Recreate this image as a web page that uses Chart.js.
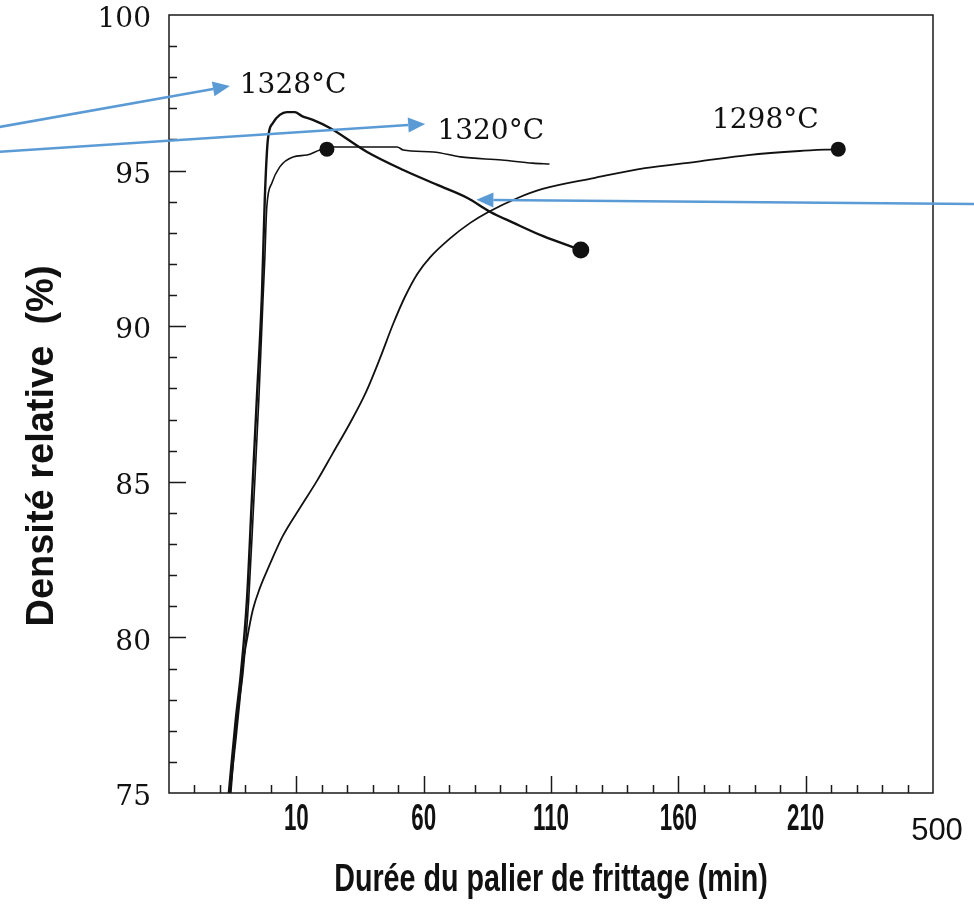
<!DOCTYPE html>
<html>
<head>
<meta charset="utf-8">
<script src="https://cdn.jsdelivr.net/npm/chart.js@4.4.1/dist/chart.umd.min.js"></script>
<style>
  html, body { margin: 0; padding: 0; background: #fff; }
</style>
</head>
<body>
<canvas id="chart" width="974" height="911"></canvas>
<script>
// Courbes (durée en min, densité en %)
const x1328 = [-16.5, -13.8, -11.8, -9.4, -7.5, -5.5, -3.5, -2.4, -1.2, 0.8, 3.5, 6.3, 9.4, 12.2, 16.5, 23.2, 37.8, 52.0, 65.4, 77.2, 86.2, 95.3, 106.7, 121.7];
const y1328 = [75, 77.35, 78.82, 81.2, 84.38, 87.69, 91.03, 94.06, 95.98, 96.53, 96.79, 96.88, 96.88, 96.75, 96.63, 96.37, 95.6, 95.02, 94.54, 94.12, 93.67, 93.32, 92.9, 92.45];
const dot1328 = 23;

const x1320 = [-15.7, -13.4, -11.0, -8.7, -6.7, -4.7, -3.1, -2.4, -1.6, 0.4, 3.5, 8.7, 14.2, 19.3, 22.0, 24.4, 49.6, 52.0, 63.8, 74.4, 90.6, 102.8, 109.4];
const y1320 = [75, 77.35, 78.82, 81.2, 84.38, 87.69, 90.84, 92.13, 93.83, 94.6, 95.12, 95.44, 95.5, 95.66, 95.69, 95.76, 95.76, 95.66, 95.6, 95.44, 95.34, 95.24, 95.21];
const dot1320 = 14;

const x1298 = [-16.1, -13.8, -12.2, -11.0, -9.4, -7.1, -4.3, -1.2, 4.7, 11.4, 18.1, 24.4, 31.1, 37.4, 42.9, 48.0, 52.8, 57.5, 62.6, 70.5, 78.3, 85.4, 96.9, 106.7, 126.8, 146.9, 166.9, 187.4, 207.5, 222.8];
const y1298 = [75, 76.7, 77.99, 79.11, 79.92, 80.88, 81.59, 82.2, 83.26, 84.16, 85.03, 85.93, 86.89, 87.89, 88.98, 90.07, 90.97, 91.68, 92.22, 92.83, 93.32, 93.67, 94.12, 94.41, 94.76, 95.08, 95.28, 95.5, 95.63, 95.69];
const dot1298 = 29;

// Axes
const yLabelled = [75, 80, 85, 90, 95, 100];
const xLabelled = [10, 60, 110, 160, 210];
const xEndLabel = '500';
const xTitle = 'Durée du palier de frittage (min)';
const yTitle = 'Densité relative  (%)';

// Annotations (en coordonnées des données)
const tempNames = ['1328°C', '1320°C', '1298°C'];
const tempAt = [[-12.2, 97.72], [65.4, 96.24], [173.2, 96.59]];
const arrowFrom = [[-106.7, 96.40], [-106.7, 95.60], [276.8, 93.93]];
const arrowTo = [[-16.1, 97.72], [60.6, 96.50], [80.7, 94.06]];

const INK = '#111';
const BLUE = '#5b9bd5';
const SANS = '"Liberation Sans", Arial, sans-serif';

function serie(xs, ys, dotIdx, width, r) {
    return {
        data: xs.map((x, i) => ({ x: x, y: ys[i] })),
        borderColor: INK,
        borderWidth: width,
        cubicInterpolationMode: 'monotone',
        pointRadius: xs.map((_, i) => i === dotIdx ? r : 0),
        pointBackgroundColor: INK,
        pointBorderWidth: 0,
        clip: false
    };
}

function drawArrow(ctx, x0, y0, x1, y1) {
    const ang = Math.atan2(y1 - y0, x1 - x0);
    const L = 17, W = 7.5;
    const bx = x1 - L * Math.cos(ang), by = y1 - L * Math.sin(ang);
    ctx.beginPath();
    ctx.moveTo(x0, y0);
    ctx.lineTo(bx, by);
    ctx.stroke();
    ctx.beginPath();
    ctx.moveTo(x1, y1);
    ctx.lineTo(bx - W * Math.sin(ang), by + W * Math.cos(ang));
    ctx.lineTo(bx + W * Math.sin(ang), by - W * Math.cos(ang));
    ctx.closePath();
    ctx.fill();
}

// texte étroit (la figure d'origine est étirée verticalement)
function narrowText(ctx, s, x, y, sx) {
    ctx.save();
    ctx.translate(x, y);
    ctx.scale(sx, 1);
    ctx.fillText(s, 0, 0);
    ctx.restore();
}

const decor = {
    id: 'decor',
    afterDraw(chart) {
        const { ctx, chartArea: a, scales: { x, y } } = chart;
        ctx.save();

        // cadre + graduations vers l'intérieur
        ctx.strokeStyle = '#1a1a1a';
        ctx.lineWidth = 1.5;
        ctx.strokeRect(a.left, a.top, a.right - a.left, a.bottom - a.top);
        ctx.beginPath();
        y.ticks.forEach(t => {
            if (t.value <= y.min || t.value >= y.max) return;
            const py = Math.round(y.getPixelForValue(t.value)) + 0.5;
            const len = t.value % 5 === 0 ? 17 : 8;
            ctx.moveTo(a.left, py);
            ctx.lineTo(a.left + len, py);
        });
        x.ticks.forEach(t => {
            if (t.value <= x.min || t.value >= x.max) return;
            const px = Math.round(x.getPixelForValue(t.value)) + 0.5;
            const len = (t.value - 10) % 50 === 0 ? 17 : 8;
            ctx.moveTo(px, a.bottom);
            ctx.lineTo(px, a.bottom - len);
        });
        ctx.stroke();

        // libellés de l'axe X
        ctx.fillStyle = INK;
        ctx.textAlign = 'center';
        ctx.textBaseline = 'middle';
        ctx.font = 'bold 36px ' + SANS;
        x.ticks.forEach(t => {
            if (xLabelled.includes(t.value)) {
                narrowText(ctx, String(t.value), x.getPixelForValue(t.value), a.bottom + 27, 0.62);
            }
        });
        ctx.font = '31px ' + SANS;
        ctx.fillText(xEndLabel, x.getPixelForValue(x.max) + 4, a.bottom + 38);

        // titre de l'axe X
        ctx.font = 'bold 38px ' + SANS;
        narrowText(ctx, xTitle, (a.left + a.right) / 2, a.bottom + 88, 0.755);

        // titre de l'axe Y
        ctx.save();
        ctx.translate(43, 446);
        ctx.rotate(-Math.PI / 2);
        ctx.font = 'bold 38px ' + SANS;
        ctx.fillText(yTitle, 0, 0);
        ctx.restore();

        // températures
        ctx.font = '28px "DejaVu Serif", serif';
        ctx.textAlign = 'left';
        tempNames.forEach((s, i) => {
            ctx.fillText(s, x.getPixelForValue(tempAt[i][0]), y.getPixelForValue(tempAt[i][1]));
        });

        // flèches bleues
        ctx.strokeStyle = BLUE;
        ctx.fillStyle = BLUE;
        ctx.lineWidth = 2.5;
        arrowFrom.forEach((f, i) => {
            drawArrow(ctx,
                x.getPixelForValue(f[0]), y.getPixelForValue(f[1]),
                x.getPixelForValue(arrowTo[i][0]), y.getPixelForValue(arrowTo[i][1]));
        });

        ctx.restore();
    }
};

new Chart(document.getElementById('chart'), {
    type: 'line',
    data: {
        datasets: [
            serie(x1328, y1328, dot1328, 2.4, 8.5),
            serie(x1320, y1320, dot1320, 1.6, 7.5),
            serie(x1298, y1298, dot1298, 1.8, 7.5)
        ]
    },
    options: {
        responsive: false,
        animation: false,
        devicePixelRatio: 1,
        layout: { padding: { top: 15, right: 41, left: 0, bottom: 0 } },
        plugins: { legend: { display: false }, tooltip: { enabled: false } },
        scales: {
            x: {
                type: 'linear',
                min: -40,
                max: 260,
                grid: { display: false },
                border: { display: false },
                ticks: { display: false, stepSize: 10, autoSkip: false, maxRotation: 0 },
                afterFit(s) { s.height = 118; s.paddingLeft = 0; s.paddingRight = 0; }
            },
            y: {
                min: 75,
                max: 100,
                grid: { display: false },
                border: { display: false },
                ticks: {
                    stepSize: 1,
                    autoSkip: false,
                    padding: 10,
                    labelOffset: 5,
                    color: INK,
                    font: { family: "'DejaVu Serif', serif", size: 28, lineHeight: 1 },
                    callback: v => yLabelled.includes(v) ? String(v) : ''
                },
                afterFit(s) { s.width = 169; s.paddingTop = 0; s.paddingBottom = 0; }
            }
        }
    },
    plugins: [decor]
});
</script>
</body>
</html>
